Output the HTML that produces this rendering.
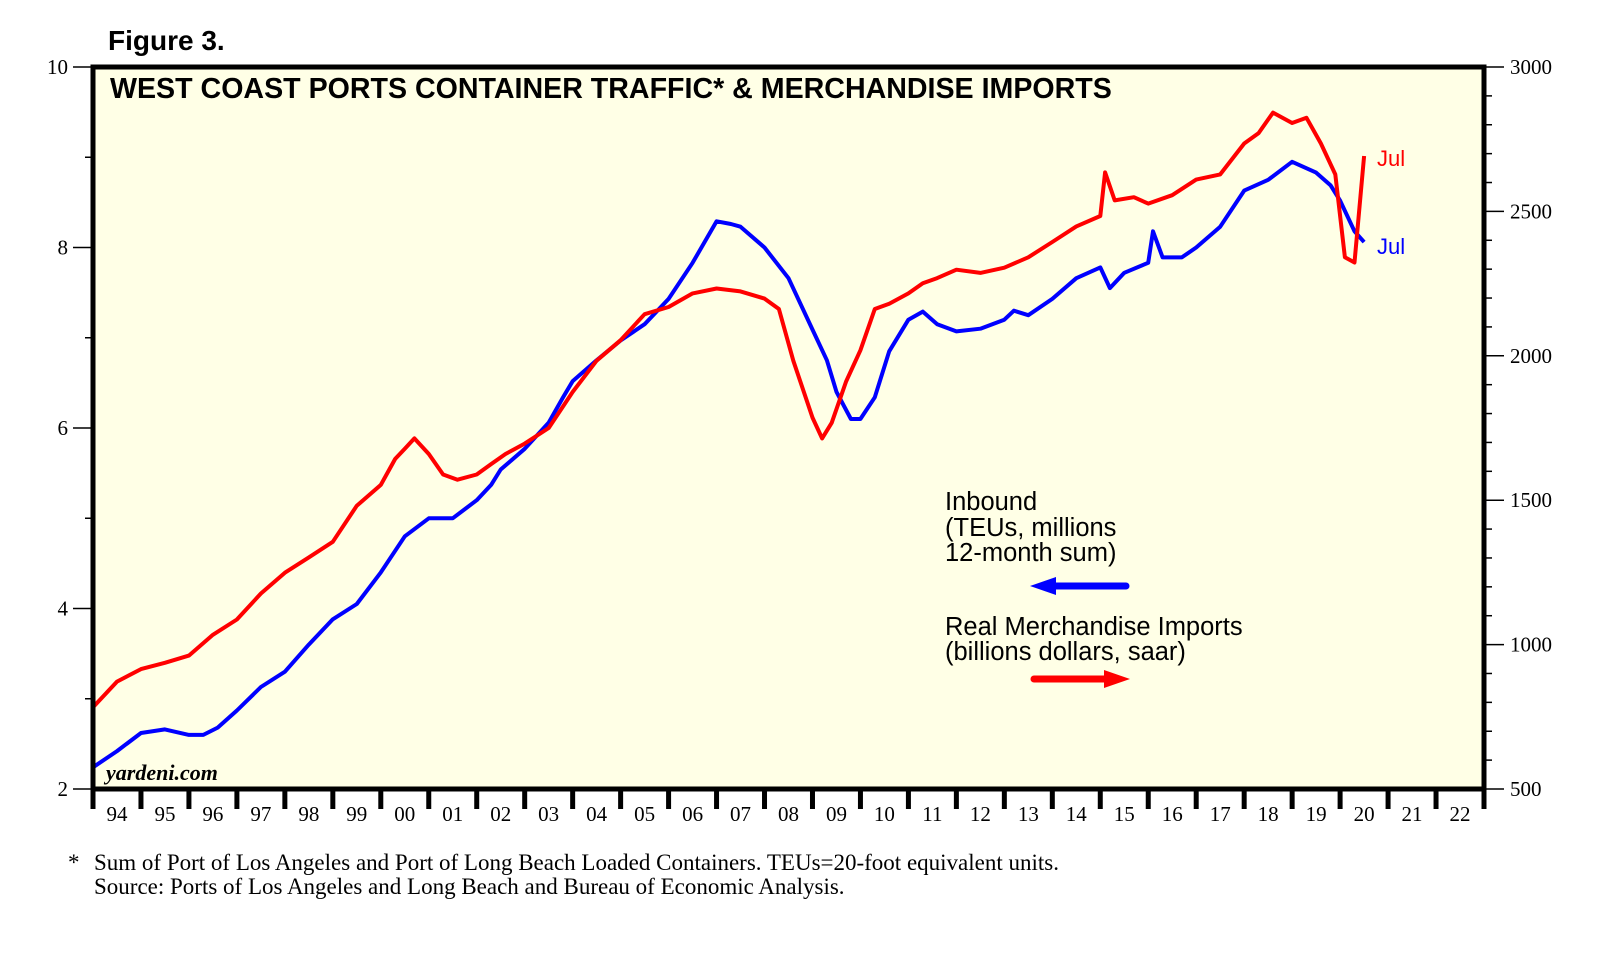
<!DOCTYPE html>
<html><head><meta charset="utf-8"><style>
body{margin:0;background:#fff;}
svg{display:block;font-family:"Liberation Sans",sans-serif;}
.serif{font-family:"Liberation Serif",serif;}
</style></head><body>
<svg id="chart" width="1620" height="960" viewBox="0 0 1620 960" xmlns="http://www.w3.org/2000/svg">
<text x="108" y="50" font-size="28" font-weight="bold">Figure 3.</text>
<rect x="93" y="67" width="1391" height="722" fill="#ffffe6"/>
<g id="series"></g>
<g id="axes"></g>
<rect x="93" y="67" width="1391" height="722" fill="none" stroke="#000" stroke-width="5"/>
<text x="110" y="98" font-size="28.6" font-weight="bold">WEST COAST PORTS CONTAINER TRAFFIC* &amp; MERCHANDISE IMPORTS</text>
<text class="serif" x="106" y="789" dy="-9" font-size="22" font-weight="bold" font-style="italic">yardeni.com</text>
<g font-size="25.5">
<text x="945" y="510">Inbound</text>
<text x="945" y="536">(TEUs, millions</text>
<text x="945" y="561">12-month sum)</text>
<line x1="1050" y1="586" x2="1126" y2="586" stroke="#0000ff" stroke-width="7" stroke-linecap="round"/>
<polygon points="1030,586 1056,577 1056,595" fill="#0000ff"/>
<text x="945" y="635">Real Merchandise Imports</text>
<text x="945" y="660">(billions dollars, saar)</text>
<line x1="1034" y1="679" x2="1108" y2="679" stroke="#ff0000" stroke-width="7" stroke-linecap="round"/>
<polygon points="1130,679 1104,670 1104,688" fill="#ff0000"/>
</g>
<text x="1377" y="166" font-size="22" fill="#ff0000">Jul</text>
<text x="1377" y="254" font-size="22" fill="#0000ff">Jul</text>
<g class="serif" font-size="23">
<text x="68" y="870">*</text>
<text x="94" y="870">Sum of Port of Los Angeles and Port of Long Beach Loaded Containers. TEUs=20-foot equivalent units.</text>
<text x="94" y="894">Source: Ports of Los Angeles and Long Beach and Bureau of Economic Analysis.</text>
</g>
</svg>
<script>
const inboundDates=[94.0,94.5,95.0,95.5,96.0,96.3,96.6,97.0,97.5,98.0,98.5,99.0,99.5,100.0,100.5,101.0,101.5,102.0,102.3,102.5,103.0,103.5,103.8,104.0,104.5,105.0,105.5,106.0,106.5,107.0,107.3,107.5,108.0,108.5,109.0,109.3,109.5,109.8,110.0,110.3,110.6,111.0,111.3,111.6,112.0,112.5,113.0,113.2,113.5,114.0,114.5,115.0,115.2,115.5,116.0,116.1,116.3,116.7,117.0,117.5,118.0,118.5,119.0,119.5,119.8,120.0,120.3,120.5];
const inboundValues=[2.24,2.42,2.62,2.66,2.6,2.6,2.68,2.87,3.13,3.3,3.6,3.88,4.05,4.4,4.8,5.0,5.0,5.2,5.37,5.54,5.77,6.06,6.34,6.52,6.75,6.97,7.15,7.43,7.83,8.29,8.26,8.23,8.0,7.66,7.09,6.75,6.4,6.1,6.1,6.34,6.85,7.2,7.29,7.15,7.07,7.1,7.2,7.3,7.25,7.43,7.66,7.78,7.55,7.72,7.83,8.18,7.89,7.89,8.0,8.23,8.63,8.75,8.95,8.83,8.69,8.52,8.18,8.06];
const importDates=[94.0,94.5,95.0,95.5,96.0,96.5,97.0,97.5,98.0,98.5,99.0,99.5,100.0,100.3,100.5,100.7,101.0,101.3,101.6,102.0,102.3,102.6,103.0,103.5,104.0,104.5,105.0,105.5,106.0,106.5,107.0,107.5,108.0,108.3,108.6,109.0,109.2,109.4,109.7,110.0,110.3,110.6,111.0,111.3,111.6,112.0,112.5,113.0,113.5,114.0,114.5,115.0,115.1,115.3,115.7,116.0,116.5,117.0,117.5,118.0,118.3,118.6,119.0,119.3,119.6,119.9,120.1,120.3,120.5];
const importValues=[783,872,915,937,962,1034,1087,1177,1249,1302,1356,1481,1553,1643,1678,1714,1660,1589,1571,1589,1625,1660,1696,1750,1875,1983,2054,2144,2169,2216,2233,2223,2198,2162,1983,1786,1714,1768,1911,2019,2162,2180,2216,2251,2269,2298,2287,2305,2341,2394,2448,2484,2635,2538,2549,2527,2556,2610,2628,2735,2771,2842,2806,2824,2735,2628,2341,2323,2692];
const yearLabels=["94","95","96","97","98","99","00","01","02","03","04","05","06","07","08","09","10","11","12","13","14","15","16","17","18","19","20","21","22"];
const leftTicks=[2,4,6,8,10];
const rightTicks=[500,1000,1500,2000,2500,3000];

const X0=93,X1=1484,Y0=67,Y1=789;
const x=t=>X0+(t-94)/(123-94)*(X1-X0);
const yL=v=>Y1-(v-2)/(10-2)*(Y1-Y0);
const yR=v=>Y1-(v-500)/(3000-500)*(Y1-Y0);
const NS="http://www.w3.org/2000/svg";
function mk(tag,attrs,parent){const e=document.createElementNS(NS,tag);for(const k in attrs)e.setAttribute(k,attrs[k]);parent.appendChild(e);return e;}
const series=document.getElementById('series'),axes=document.getElementById('axes');

let d=inboundDates.map((t,i)=>(i?'L':'M')+x(t).toFixed(1)+','+yL(inboundValues[i]).toFixed(1)).join('');
let p=mk('path',{d:d,fill:'none',stroke:'#0000ff','stroke-width':4,'stroke-linejoin':'round'},series);


d=importDates.map((t,i)=>(i?'L':'M')+x(t).toFixed(1)+','+yR(importValues[i]).toFixed(1)).join('');
p=mk('path',{d:d,fill:'none',stroke:'#ff0000','stroke-width':4,'stroke-linejoin':'round'},series);



yearLabels.forEach((lab,i)=>{
  const tx=x(94+i);
  if(i>0){const l=mk('line',{x1:tx,y1:Y1,x2:tx,y2:Y1+20,stroke:'#000','stroke-width':5},axes);
  
  }
  const t=mk('text',{x:x(94.5+i),y:Y1+32,'text-anchor':'middle','font-size':21,'font-family':'Liberation Serif,serif'},axes);
  
  
  t.textContent=lab;
});
mk('line',{x1:X0,y1:Y1,x2:X0,y2:Y1+20,stroke:'#000','stroke-width':5},axes);
mk('line',{x1:X1,y1:Y1,x2:X1,y2:Y1+20,stroke:'#000','stroke-width':5},axes);
for(let v=2;v<=10;v+=1){const yy=yL(v);mk('line',{x1:X0-(v%2===0?20:8),y1:yy,x2:X0,y2:yy,stroke:'#000','stroke-width':1.5},axes);}
leftTicks.forEach(v=>{const t=mk('text',{x:X0-25,y:yL(v)+7,'text-anchor':'end','font-size':21,'font-family':'Liberation Serif,serif'},axes);


t.textContent=v;});
for(let v=500;v<=3000;v+=100){const yy=yR(v);mk('line',{x1:X1,y1:yy,x2:X1+(v%500===0?20:8),y2:yy,stroke:'#000','stroke-width':1.5},axes);}
rightTicks.forEach(v=>{const t=mk('text',{x:X1+26,y:yR(v)+7,'font-size':21,'font-family':'Liberation Serif,serif'},axes);


t.textContent=v;});
</script>
</body></html>
